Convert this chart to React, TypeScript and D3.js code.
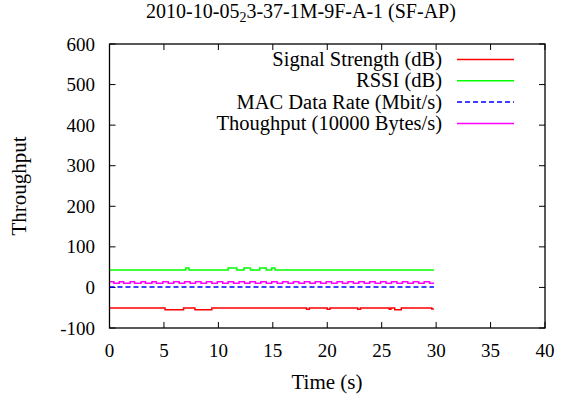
import React from "react";
import * as d3 from "d3";

const xTicks = [0, 5, 10, 15, 20, 25, 30, 35, 40];
const yTicks = [-100, 0, 100, 200, 300, 400, 500, 600];

const signalT = [0, 5.1, 6.8, 7.85, 9.4, 18.1, 18.35, 20.0, 20.25, 22.8, 23.05, 25.7, 25.85, 26.2, 26.8, 29.6, 29.8];
const signalV = [-51, -55, -51, -55, -51, -54, -51, -54, -51, -54, -51, -54, -51, -55, -51, -53, -53];

const rssiT = [0, 7.0, 7.3, 10.9, 11.7, 12.35, 12.95, 13.8, 14.4, 14.9, 15.2, 29.8];
const rssiV = [43, 48, 43, 48, 43, 48, 43, 48, 43, 48, 43, 43];

const macT = [0, 29.8];
const macV = [1, 1];

const thrT = [0, 0.4, 0.9, 1.3, 1.9, 2.3, 2.9, 3.3, 3.9, 4.3, 4.9, 5.4, 5.9, 6.4, 6.9, 7.4, 7.9, 8.4, 8.9, 9.4, 9.9, 10.4, 10.9, 11.4, 11.9, 12.4, 12.9, 13.4, 13.9, 14.4, 14.9, 15.4, 15.9, 16.4, 16.9, 17.4, 17.9, 18.4, 18.9, 19.4, 19.9, 20.4, 20.9, 21.4, 21.9, 22.4, 22.9, 23.4, 23.9, 24.4, 24.9, 25.4, 25.9, 26.4, 26.9, 27.4, 27.9, 28.4, 28.9, 29.4, 29.8];
const thrV = [14, 10, 14, 10, 14, 10, 14, 10, 14, 10, 14, 10, 14, 10, 14, 10, 14, 10, 14, 10, 14, 10, 14, 10, 14, 10, 14, 10, 14, 10, 14, 10, 14, 10, 14, 10, 14, 10, 14, 10, 14, 10, 14, 10, 14, 10, 14, 10, 14, 10, 14, 10, 14, 10, 14, 10, 14, 10, 14, 10, 10];

const seriesNames = ["Signal Strength (dB)", "RSSI (dB)", "MAC Data Rate (Mbit/s)", "Thoughput (10000 Bytes/s)"];
const seriesColors = ["#ff0000", "#00ff00", "#0000ff", "#ff00ff"];
const seriesDash = [null, null, "5,3", null];

export default function App() {
  const W = 568, H = 398;
  const left = 109.5, right = 545, top = 44, bottom = 328;
  const x = d3.scaleLinear().domain([0, 40]).range([left, right]);
  const y = d3.scaleLinear().domain([-100, 600]).range([bottom, top]);
  const font = "'Liberation Serif', 'Times New Roman', serif";

  const series = [
    { t: signalT, v: signalV },
    { t: rssiT, v: rssiV },
    { t: macT, v: macV },
    { t: thrT, v: thrV },
  ];
  const line = d3
    .line<[number, number]>()
    .x((d) => x(d[0]))
    .y((d) => y(d[1]))
    .curve(d3.curveStepAfter);

  const tl = 6;
  const legendX1 = 457, legendX2 = 514, legendTextX = 442;
  const legendY0 = 59.5, legendDy = 21.3;

  return (
    <svg width={W} height={H} style={{ position: "absolute", left: 0, top: 0, background: "#fff" }} fontFamily={font}>
      <text x={301} y={17.5} textAnchor="middle" fontSize={20} fill="#000">
        2010-10-05
        <tspan fontSize={14} dy={4}>2</tspan>
        <tspan dy={-4}>3-37-1M-9F-A-1 (SF-AP)</tspan>
      </text>

      {xTicks.map((t) => (
        <g key={"xt" + t}>
          <line x1={x(t)} x2={x(t)} y1={bottom} y2={bottom - tl} stroke="#000" strokeWidth={1} />
          <line x1={x(t)} x2={x(t)} y1={top} y2={top + tl} stroke="#000" strokeWidth={1} />
          <text x={x(t)} y={357} textAnchor="middle" fontSize={19} fill="#000">{t}</text>
        </g>
      ))}
      {yTicks.map((t) => (
        <g key={"yt" + t}>
          <line x1={left} x2={left + tl} y1={y(t)} y2={y(t)} stroke="#000" strokeWidth={1} />
          <line x1={right} x2={right - tl} y1={y(t)} y2={y(t)} stroke="#000" strokeWidth={1} />
          <text x={95} y={y(t) + 6.5} textAnchor="end" fontSize={19} fill="#000">{t}</text>
        </g>
      ))}

      {series.map((s, i) => (
        <path
          key={"s" + i}
          d={line(s.t.map((tt, j) => [tt, s.v[j]] as [number, number])) || ""}
          fill="none"
          stroke={seriesColors[i]}
          strokeWidth={1.5}
          strokeDasharray={seriesDash[i] || undefined}
        />
      ))}

      {seriesNames.map((n, i) => (
        <g key={"lg" + i}>
          <text x={legendTextX} y={legendY0 + i * legendDy + 6.5} textAnchor="end" fontSize={20.5} fill="#000">{n}</text>
          <line x1={legendX1} x2={legendX2} y1={legendY0 + i * legendDy} y2={legendY0 + i * legendDy}
            stroke={seriesColors[i]} strokeWidth={1.5} strokeDasharray={seriesDash[i] || undefined} />
        </g>
      ))}

      <rect x={left} y={top} width={right - left} height={bottom - top} fill="none" stroke="#000" strokeWidth={1.3} />

      <text x={327} y={389} textAnchor="middle" fontSize={21} fill="#000">Time (s)</text>
      <text transform={`translate(26,186) rotate(-90)`} textAnchor="middle" fontSize={21} fill="#000">Throughput</text>
    </svg>
  );
}
